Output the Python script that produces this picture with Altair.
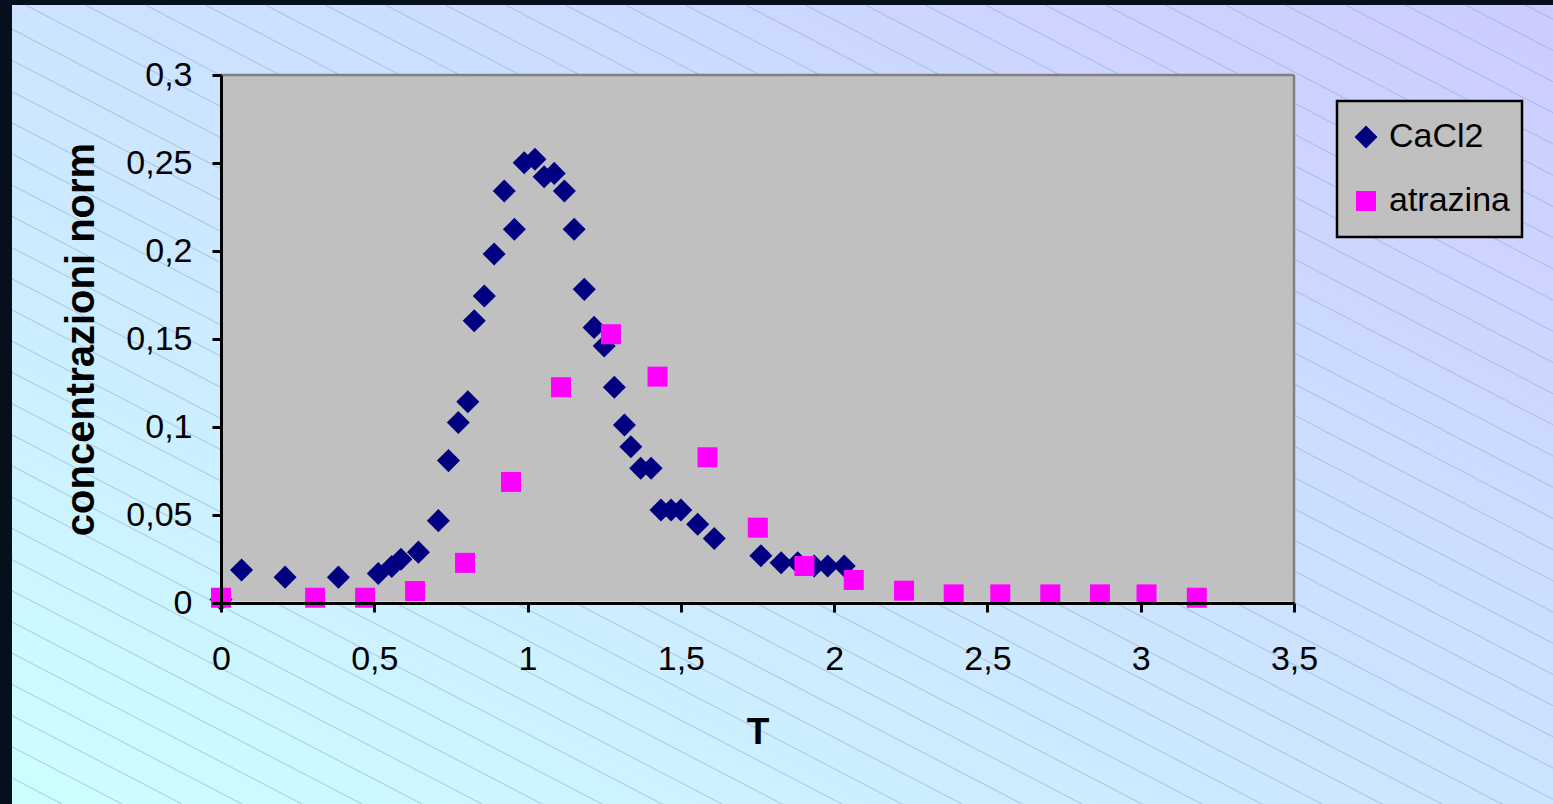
import altair as alt
import numpy as np
import pandas as pd

# ---------------- data ----------------
cacl2_T = [0.0, 0.067, 0.209, 0.383, 0.513, 0.557, 0.587, 0.644, 0.709, 0.742,
           0.774, 0.805, 0.826, 0.859, 0.891, 0.924, 0.957, 0.989, 1.024, 1.054,
           1.087, 1.120, 1.152, 1.185, 1.217, 1.250, 1.283, 1.316, 1.337, 1.369,
           1.403, 1.435, 1.468, 1.500, 1.555, 1.609, 1.761, 1.827, 1.881, 1.935,
           1.979, 2.033]
cacl2_C = [0.002, 0.0187, 0.0147, 0.0147, 0.0167, 0.0208, 0.0248, 0.0289, 0.0468, 0.0809,
           0.1026, 0.1144, 0.1604, 0.1744, 0.1983, 0.2341, 0.2123, 0.2502, 0.2521, 0.2422,
           0.2441, 0.2341, 0.2123, 0.1782, 0.1566, 0.1460, 0.1226, 0.1011, 0.0888, 0.0765,
           0.0765, 0.0528, 0.0528, 0.0528, 0.0447, 0.0367, 0.0269, 0.0229, 0.0229, 0.0210,
           0.0210, 0.0210]

atrazina_T = [0.0, 0.307, 0.470, 0.633, 0.796, 0.946, 1.109, 1.272, 1.424, 1.587,
              1.751, 1.903, 2.064, 2.228, 2.390, 2.542, 2.705, 2.867, 3.019, 3.183]
atrazina_C = [0.003, 0.003, 0.003, 0.0068, 0.0228, 0.0688, 0.1226, 0.1527, 0.1286, 0.0828,
              0.0428, 0.0210, 0.0131, 0.0070, 0.0049, 0.0049, 0.0049, 0.0049, 0.0049, 0.0030]

series_names = ["CaCl2", "atrazina"]
x_ticks = [0, 0.5, 1, 1.5, 2, 2.5, 3, 3.5]
y_ticks = [0, 0.05, 0.1, 0.15, 0.2, 0.25, 0.3]

# ---------------- layout ----------------
W, H = 1073, 528
LEFT, TOP = 221, 75
CANVAS_W, CANVAS_H = 1553, 804
X_MAX, Y_MAX = 3.5, 0.3
FONT = "Liberation Sans"

points = pd.concat([
    pd.DataFrame({"T": cacl2_T, "C": cacl2_C, "serie": series_names[0]}),
    pd.DataFrame({"T": atrazina_T, "C": atrazina_C, "serie": series_names[1]}),
], ignore_index=True)

# decorative diagonal hatching of the slide background (pixel geometry -> data units)
slope, step = 0.52, 60.0
y_top, y_bot, x_left, x_right = 5.0, float(CANVAS_H), 12.0, float(CANVAS_W)
span = (y_bot - y_top) / slope
rows = []
for x0 in np.arange(25.5 - 27 * step, x_right, step):
    xa, xb = max(x0, x_left), min(x0 + span, x_right)
    if xb <= xa:
        continue
    ya, yb = y_top + slope * (xa - x0), y_top + slope * (xb - x0)
    rows.append({
        "hx": (xa - LEFT) / W * X_MAX, "hx2": (xb - LEFT) / W * X_MAX,
        "hy": (H - (ya - TOP)) / H * Y_MAX, "hy2": (H - (yb - TOP)) / H * Y_MAX,
    })
hatch_df = pd.DataFrame(rows)

one = alt.Data(values=[{}])

xscale = alt.Scale(domain=[0, X_MAX], nice=False, zero=False)
yscale = alt.Scale(domain=[0, Y_MAX], nice=False, zero=False)

label_expr = "replace(format(datum.value, '~g'), '.', ',')"

x_axis = alt.Axis(
    values=x_ticks, labelExpr=label_expr, title="T",
    titleFontSize=37, titleFontWeight="bold", titleFont=FONT, titleColor="black",
    titleY=140, titleBaseline="alphabetic",
    labelFontSize=34, labelFont=FONT, labelColor="black", labelPadding=30,
    labelFlush=False, labelOverlap=False,
    domainColor="black", domainWidth=3, tickColor="black", tickWidth=3, tickSize=9,
    grid=False, zindex=1)
y_axis = alt.Axis(
    values=y_ticks, labelExpr=label_expr, title="concentrazioni norm",
    titleFontSize=40, titleFontWeight="bold", titleFont=FONT, titleColor="black",
    titleX=-128, titleY=H / 2, titleBaseline="alphabetic", titleAngle=270,
    labelFontSize=34, labelFont=FONT, labelColor="black", labelPadding=20,
    labelFlush=False, labelOverlap=False,
    domainColor="black", domainWidth=3, tickColor="black", tickWidth=3, tickSize=9,
    grid=False, zindex=1)

gradient = alt.LinearGradient(
    gradient="linear",
    stops=[alt.GradientStop(color="#CCFFFF", offset=0),
           alt.GradientStop(color="#CCE4FF", offset=0.5),
           alt.GradientStop(color="#CCCCFF", offset=1)],
    x1=0, y1=1, x2=1, y2=0,
)

bg = alt.Chart(one).mark_rect(color=gradient).encode(
    x=alt.value(x_left - LEFT), x2=alt.value(CANVAS_W - LEFT),
    y=alt.value(y_top - TOP), y2=alt.value(CANVAS_H - TOP),
)

hatch = alt.Chart(hatch_df).mark_rule(color="#8FA6C8", strokeWidth=1, opacity=0.6).encode(
    x=alt.X("hx:Q", scale=xscale, axis=x_axis), x2="hx2:Q",
    y=alt.Y("hy:Q", scale=yscale, axis=y_axis), y2="hy2:Q",
)

plot_bg = alt.Chart(one).mark_rect(color="#C0C0C0").encode(
    x=alt.value(1.5), x2=alt.value(W), y=alt.value(0), y2=alt.value(H - 1.5),
)
top_border = alt.Chart(one).mark_rule(color="#808080", strokeWidth=2.5).encode(
    x=alt.value(0), x2=alt.value(W), y=alt.value(0),
)
right_border = alt.Chart(one).mark_rule(color="#808080", strokeWidth=2.5).encode(
    x=alt.value(W), y=alt.value(0), y2=alt.value(H),
)

pts = alt.Chart(points).mark_point(filled=True, opacity=1, strokeWidth=0).encode(
    x=alt.X("T:Q", scale=xscale, axis=x_axis),
    y=alt.Y("C:Q", scale=yscale, axis=y_axis),
    color=alt.Color("serie:N", scale=alt.Scale(domain=series_names, range=["#000080", "#FF00FF"]),
                    legend=alt.Legend(title=None, orient="none", legendX=1116, legendY=26,
                                      fillColor="#C0C0C0", strokeColor="black",
                                      padding=12, rowPadding=16, clipHeight=48,
                                      labelFontSize=34, labelFont=FONT,
                                      labelColor="black", symbolSize=480, labelOffset=6,
                                      symbolStrokeWidth=0)),
    shape=alt.Shape("serie:N", scale=alt.Scale(domain=series_names, range=["diamond", "square"]),
                    legend=alt.Legend(title=None, orient="none", legendX=1116, legendY=26)),
    size=alt.Size("serie:N", scale=alt.Scale(domain=series_names, range=[530, 400]), legend=None),
)

chart = alt.layer(bg, hatch, plot_bg, top_border, right_border, pts).properties(
    width=W, height=H,
    autosize=alt.AutoSizeParams(type="none"),
    padding={"left": LEFT, "top": TOP, "right": CANVAS_W - LEFT - W, "bottom": CANVAS_H - TOP - H},
    background="#06101C",
).configure_view(stroke=None).configure_legend(strokeWidth=2.5)

chart.save("out.html", embed_options={"renderer": "svg", "actions": False})
